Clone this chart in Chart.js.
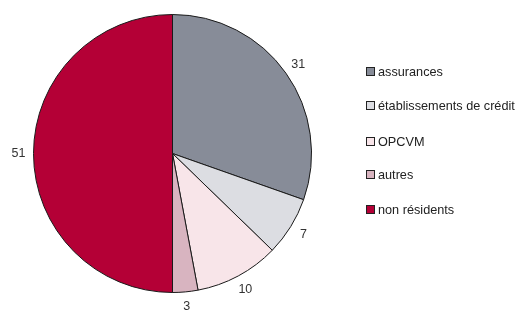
<!DOCTYPE html>
<html>
<head>
<meta charset="utf-8">
<script src="https://cdn.jsdelivr.net/npm/chart.js@4.4.0/dist/chart.umd.min.js"></script>
<style>
	html, body { margin: 0; padding: 0; background: #fff; }
	#wrap { width: 518px; height: 313px; position: relative; }
</style>
</head>
<body>
<div id="wrap"><canvas id="myChart"></canvas></div>
<script>
const categories = [
	"assurances",
	"établissements de crédit",
	"OPCVM",
	"autres",
	"non résidents",
];
const dataValues = [31, 7, 10, 3, 51];
const sliceColors = ["#878c98", "#dcdde2", "#f8e5e9", "#d8b4c0", "#b40036"];

// libellés de valeurs autour du camembert
const valueLabels = {
	id: "valueLabels",
	afterDatasetsDraw(chart) {
		const ctx = chart.ctx;
		const meta = chart.getDatasetMeta(0);
		ctx.save();
		ctx.font = "12.5px 'Liberation Sans', Arial, sans-serif";
		ctx.fillStyle = "#333333";
		ctx.textAlign = "center";
		ctx.textBaseline = "middle";
		meta.data.forEach((arc, i) => {
			const mid = (arc.startAngle + arc.endAngle) / 2;
			const r = arc.outerRadius + 15;
			ctx.fillText(String(dataValues[i]), arc.x + Math.cos(mid) * r, arc.y + Math.sin(mid) * r);
		});
		ctx.restore();
	},
};

// légende à droite
const sideLegend = {
	id: "sideLegend",
	afterDraw(chart) {
		const ctx = chart.ctx;
		const rows = [72, 106, 142, 175, 210];
		ctx.save();
		ctx.font = "12.7px 'Liberation Sans', Arial, sans-serif";
		ctx.textBaseline = "middle";
		ctx.textAlign = "left";
		categories.forEach((name, i) => {
			const y = rows[i];
			ctx.fillStyle = sliceColors[i];
			ctx.fillRect(366.5, y - 4.5, 8, 8);
			ctx.strokeStyle = "#222222";
			ctx.lineWidth = 1;
			ctx.strokeRect(366.5, y - 4.5, 8, 8);
			ctx.fillStyle = "#222222";
			ctx.fillText(name, 378, y);
		});
		ctx.restore();
	},
};

new Chart(document.getElementById("myChart"), {
	type: "pie",
	data: {
		labels: categories,
		datasets: [
			{
				data: dataValues,
				backgroundColor: sliceColors,
				borderColor: "#1a1a1a",
				borderWidth: 1,
			},
		],
	},
	options: {
		responsive: true,
		maintainAspectRatio: false,
		animation: false,
		layout: {
			padding: { left: 33, top: 14, right: 206, bottom: 20 },
		},
		plugins: {
			legend: { display: false },
			tooltip: { enabled: false },
		},
	},
	plugins: [valueLabels, sideLegend],
});
</script>
</body>
</html>
